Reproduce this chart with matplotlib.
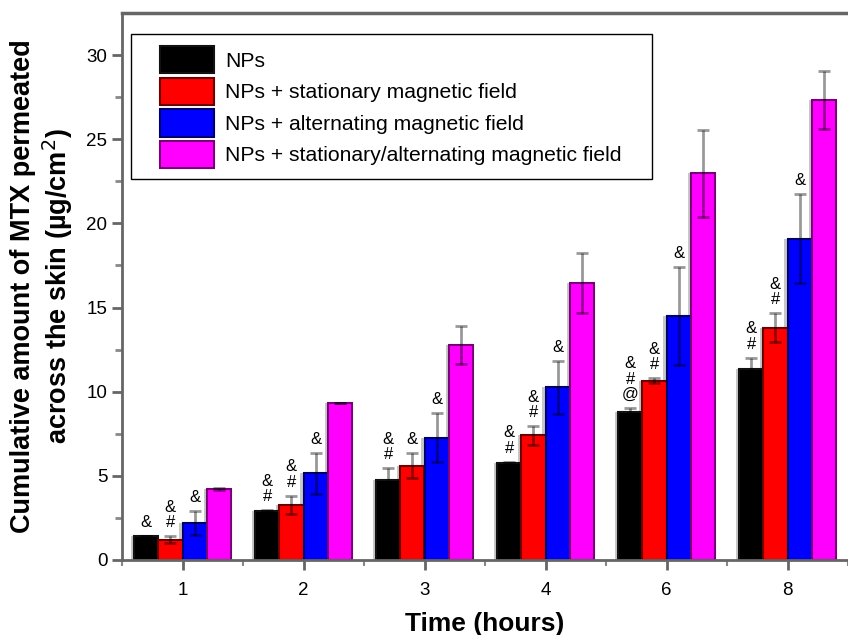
import numpy as np
import matplotlib
matplotlib.use("Agg")
import matplotlib.pyplot as plt
from matplotlib.patches import Rectangle

plt.rcParams['font.family'] = ['Liberation Sans', 'DejaVu Sans']

# data
times = ['1', '2', '3', '4', '6', '8']
series_names = ['NPs',
                'NPs + stationary magnetic field',
                'NPs + alternating magnetic field',
                'NPs + stationary/alternating magnetic field']

nps = [1.4, 2.9, 4.75, 5.75, 8.77, 11.35]
nps_err = [0.0, 0.05, 0.7, 0.1, 0.25, 0.65]
stat = [1.2, 3.27, 5.6, 7.4, 10.65, 13.8]
stat_err = [0.2, 0.55, 0.75, 0.55, 0.15, 0.85]
alt = [2.2, 5.15, 7.27, 10.25, 14.5, 19.1]
alt_err = [0.7, 1.2, 1.45, 1.6, 2.9, 2.65]
both = [4.2, 9.33, 12.77, 16.45, 22.97, 27.33]
both_err = [0.05, 0.0, 1.15, 1.8, 2.57, 1.75]

# significance marks above bars
nps_marks = ['&', '&\n#', '&\n#', '&\n#', '&\n#\n@', '&\n#']
stat_marks = ['&\n#', '&\n#', '&', '&\n#', '&\n#', '&\n#']
alt_marks = ['&', '&', '&', '&', '&', '&']
both_marks = ['', '', '', '', '', '']

vals = [nps, stat, alt, both]
errs = [nps_err, stat_err, alt_err, both_err]
marks = [nps_marks, stat_marks, alt_marks, both_marks]
colors = ['#000000', '#ff0000', '#0000ff', '#ff00ff']
edges = ['#111111', '#6a0000', '#00006a', '#7a007a']

fig = plt.figure(figsize=(8.48, 6.35), dpi=100)
ax = fig.add_axes([122 / 848, 1 - 560 / 635, 1 - 122 / 848, (560 - 13) / 635])

x = np.arange(len(times))
w = 0.2
offsets = [-0.3, -0.1, 0.1, 0.3]

for i in range(4):
    xs = x + offsets[i]
    # faint grey shadow behind the bars
    ax.bar(xs - 0.025, vals[i], w, color='#c8c8c8', zorder=1)
    ax.bar(xs, vals[i], w, color=colors[i], edgecolor=edges[i],
           linewidth=1.5, zorder=2, label=series_names[i])
    ax.errorbar(xs, vals[i], yerr=errs[i], fmt='none', ecolor='k', alpha=0.4,
                elinewidth=2, capsize=4, capthick=2, zorder=3)
    for j in range(len(times)):
        if marks[i][j]:
            ax.annotate(marks[i][j], (xs[j], vals[i][j] + errs[i][j]),
                        xytext=(0, 6), textcoords='offset pixels',
                        ha='center', va='bottom', fontsize=12,
                        linespacing=1.05, zorder=4)

ax.set_xlim(-0.5, -0.5 + (848 - 123) / 122)
ax.set_ylim(0, 32.5)
ax.set_xticks(x)
ax.set_xticklabels(times)
ax.set_xticks(np.arange(-0.5, 6, 1), minor=True)
ax.set_yticks(np.arange(0, 31, 5))
ax.set_yticks(np.arange(2.5, 31, 5), minor=True)

ax.tick_params(axis='both', which='major', labelsize=13.5, color='#666666',
               width=2, length=7)
ax.tick_params(axis='y', which='minor', color='#888888', width=2, length=5)
ax.tick_params(axis='x', which='major', pad=9)
ax.tick_params(axis='x', which='minor', color='#888888', width=1.5, length=4)

ax.spines['right'].set_visible(False)
for s in ['left', 'bottom', 'top']:
    ax.spines[s].set_color('#666666')
    ax.spines[s].set_linewidth(2)
ax.spines['top'].set_linewidth(2.5)

ax.set_xlabel('Time (hours)', fontsize=19, fontweight='bold', labelpad=9.5)
ax.set_ylabel('Cumulative amount of MTX permeated\nacross the skin (\u00b5g/cm$^2$)',
              fontsize=19.5, fontweight='bold', labelpad=8)

# legend box drawn by hand so the left padding matches
box = Rectangle((131 / 848, 1 - 179 / 635), (652 - 131) / 848, 145 / 635,
                transform=fig.transFigure, facecolor='white', edgecolor='black',
                linewidth=1, zorder=5)
ax.add_patch(box)
box.set_clip_on(False)
leg = ax.legend(loc='upper left', bbox_to_anchor=(160 / 848, 1 - 46 / 635),
                bbox_transform=fig.transFigure, frameon=False, fontsize=15.2,
                handlelength=2.55, handleheight=1.62, labelspacing=0.2,
                handletextpad=0.52, borderpad=0, borderaxespad=0)
leg.set_zorder(6)

fig.savefig('out.png', dpi=100)
